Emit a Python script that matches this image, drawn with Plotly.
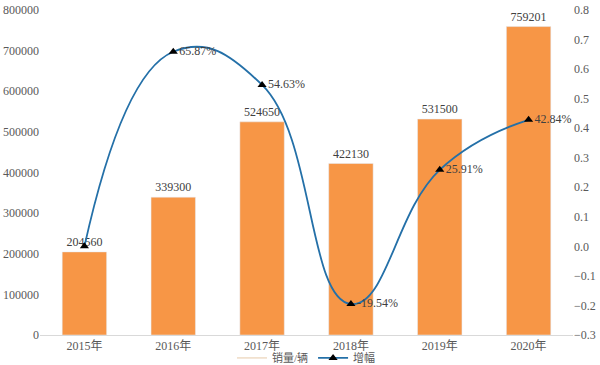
import plotly.graph_objects as go

years = ["2015年", "2016年", "2017年", "2018年", "2019年", "2020年"]
sales = [204560, 339300, 524650, 422130, 531500, 759201]
growth = [0.0, 0.6587, 0.5463, -0.1954, 0.2591, 0.4284]
growth_labels = ["", "65.87%", "54.63%", "-19.54%", "25.91%", "42.84%"]

font_stack = "SimSun, 'Liberation Serif', 'DejaVu Serif', 'Noto Sans CJK SC', serif"
text_color = "#595959"

fig = go.Figure()

fig.add_trace(go.Bar(
    x=years, y=sales, name="销量/辆",
    marker_color="#F79646", width=0.5,
    text=[str(v) for v in sales], textposition="outside",
    textfont=dict(family=font_stack, size=12, color="#404040"),
    cliponaxis=False, showlegend=False,
))

# legend proxy for the bar series (Excel shows a thin line)
fig.add_trace(go.Scatter(
    x=[None], y=[None], mode="lines", name="销量/辆",
    line=dict(color="#E6C9A8", width=1),
))

fig.add_trace(go.Scatter(
    x=years, y=growth, name="增幅", yaxis="y2",
    mode="lines+markers+text",
    line=dict(color="#2470A8", width=1.8, shape="spline", smoothing=1.3),
    marker=dict(symbol="triangle-up", size=8, color="black"),
    text=growth_labels, textposition="middle right",
    textfont=dict(family=font_stack, size=12, color="#404040"),
    cliponaxis=False,
))

fig.update_layout(
    width=600, height=365,
    margin=dict(l=40, r=27, t=10, b=30, autoexpand=False),
    paper_bgcolor="white", plot_bgcolor="white",
    font=dict(family=font_stack, size=12, color=text_color),
    bargap=0.5,
    xaxis=dict(
        showline=True, linecolor="#D9D9D9", linewidth=1,
        ticks="", tickfont=dict(size=12, color=text_color),
        showgrid=False, automargin=False,
    ),
    yaxis=dict(
        range=[0, 800000], dtick=100000, showgrid=False,
        zeroline=False, showline=False, ticks="",
        tickformat="d", tickfont=dict(size=12, color=text_color),
        automargin=False,
    ),
    yaxis2=dict(
        range=[-0.3, 0.8], dtick=0.1, overlaying="y", side="right",
        showgrid=False, zeroline=False, showline=False, ticks="",
        tickformat=".1f", tickfont=dict(size=12, color=text_color),
        automargin=False,
    ),
    legend=dict(
        orientation="h", x=0.5, xanchor="center",
        yref="paper", y=-0.026, yanchor="top",
        font=dict(size=11, color=text_color), traceorder="normal",
        itemwidth=30, bgcolor="rgba(0,0,0,0)",
    ),
)

fig.write_html("out.html")
